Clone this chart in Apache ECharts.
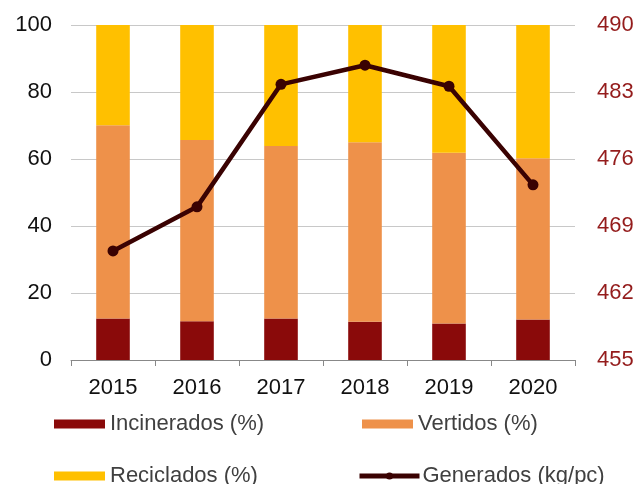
<!DOCTYPE html>
<html>
<head>
<meta charset="utf-8">
<script src="https://cdn.jsdelivr.net/npm/echarts@6/dist/echarts.min.js"></script>
<style>
html, body { margin: 0; padding: 0; background: #fff; }
#chart { width: 640px; height: 484px; }
</style>
</head>
<body>
<div id="chart"></div>
<script>
var years = ['2015', '2016', '2017', '2018', '2019', '2020'];
var incinerados = [12.4, 11.6, 12.4, 11.4, 10.9, 12.1];
var vertidos = [57.7, 54.1, 51.5, 53.6, 51.0, 48.1];
var reciclados = [29.9, 34.3, 36.1, 35.0, 38.1, 39.8];
var generados = [466.4, 471.0, 483.8, 485.8, 483.6, 473.3];

var myChart = echarts.init(document.getElementById('chart'));

// una leyenda por serie, para colocarlas como en el original
function legendAt(name, left, top, w, gap, icon) {
    return {
        data: [{ name: name, icon: icon }],
        left: left,
        top: top,
        itemWidth: w,
        itemHeight: 9,
        itemGap: 0,
        lineStyle: { width: 5 },
        textStyle: {
            fontFamily: 'Liberation Sans',
            fontSize: 22,
            color: '#404040',
            padding: [0, 0, 0, gap - 5]
        }
    };
}

var option = {
    animation: false,
    grid: {
        left: 71,
        right: 65,
        top: 25,
        bottom: 124
    },
    legend: [
        legendAt('Incinerados (%)', 49, 408, 51, 5, 'rect'),
        legendAt('Vertidos (%)', 357, 408, 51, 5, 'rect'),
        legendAt('Reciclados (%)', 49, 460, 51, 5, 'rect'),
        legendAt('Generados (kg/pc)', 352, 460, 60, 3)
    ],
    xAxis: {
        type: 'category',
        data: years,
        axisLine: { lineStyle: { color: '#888', width: 1 } },
        axisTick: { show: true, length: 6, lineStyle: { color: '#888' } },
        axisLabel: {
            color: '#111',
            fontFamily: 'Liberation Sans',
            fontSize: 22,
            margin: 17
        }
    },
    yAxis: [{
        type: 'value',
        min: 0,
        max: 100,
        interval: 20,
        axisLine: { show: false },
        axisTick: { show: false },
        splitLine: { lineStyle: { color: '#c8c8c8', width: 1 } },
        axisLabel: {
            color: '#111',
            fontFamily: 'Liberation Sans',
            fontSize: 22,
            margin: 19
        }
    }, {
        type: 'value',
        min: 455,
        max: 490,
        interval: 7,
        position: 'right',
        axisLine: { show: false },
        axisTick: { show: false },
        splitLine: { show: false },
        axisLabel: {
            color: '#941c1c',
            fontFamily: 'Liberation Sans',
            fontSize: 22,
            margin: 22
        }
    }],
    series: [{
        name: 'Incinerados (%)',
        type: 'bar',
        stack: 'total',
        barWidth: '40%',
        data: incinerados,
        itemStyle: { color: '#8a0a0a' }
    }, {
        name: 'Vertidos (%)',
        type: 'bar',
        stack: 'total',
        data: vertidos,
        itemStyle: { color: '#ee914a' }
    }, {
        name: 'Reciclados (%)',
        type: 'bar',
        stack: 'total',
        data: reciclados,
        itemStyle: { color: '#ffc000' }
    }, {
        name: 'Generados (kg/pc)',
        type: 'line',
        yAxisIndex: 1,
        data: generados,
        symbol: 'circle',
        symbolSize: 11,
        lineStyle: { color: '#3a0202', width: 4.5 },
        itemStyle: { color: '#3a0202' }
    }]
};

myChart.setOption(option);
</script>
</body>
</html>
